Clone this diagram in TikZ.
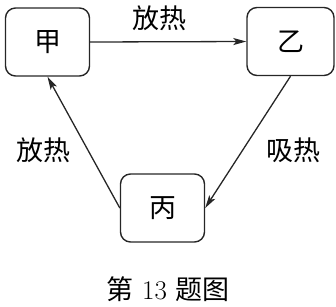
\documentclass[tikz,border=0pt]{standalone}
\usepackage{fontspec}
\newfontfamily\cjk{Noto Sans CJK SC}
\usetikzlibrary{arrows.meta}

\begin{document}
\begin{tikzpicture}[
    x=1pt,
    y=-1pt,
    state/.style={
        draw=black!85,
        line width=1.4pt,
        rounded corners=10pt,
        minimum width=84pt,
        minimum height=68pt,
        inner sep=0pt,
        font=\fontsize{27}{29}\selectfont\cjk
    },
    heat/.style={
        inner sep=0pt,
        font=\fontsize{27}{29}\selectfont\cjk
    },
    flow/.style={
        -{Stealth[length=13pt,width=7pt,inset=3pt]},
        line width=1.3pt,
        black!85
    }
]
    \useasboundingbox (0,0) rectangle (336,306);

    % ==========================================
    % STATES
    % ==========================================

    % Top row
    \node[state] (Jia) at (47.5, 42.0) {甲};
    \node[state, minimum width=87pt] (Yi) at (290.5, 41.5) {乙};

    % Bottom
    \node[state] (Bing) at (162.5, 208.0) {丙};

    % Labels
    \node[heat] (HeatTop) at (159.0, 18.0) {放热};
    \node[heat] (HeatLeft) at (43.0, 150.0) {放热};
    \node[heat] (HeatRight) at (293.0, 150.0) {吸热};

    % Caption
    \node[inner sep=0pt, font=\fontsize{27}{29}\selectfont] (Caption) at (168.0, 289.0) {{\cjk 第} 13 {\cjk 题图}};

    % ==========================================
    % CONNECTIONS
    % ==========================================

    \draw[flow] (Jia.east) -- (Yi.west);
    \draw[flow] (Yi.south) -- (Bing.east);
    \draw[flow] (Bing.west) -- (Jia.south);

\end{tikzpicture}
\end{document}
